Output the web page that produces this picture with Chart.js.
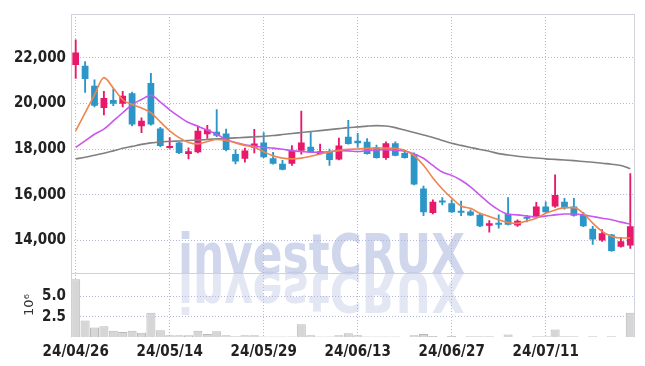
<!DOCTYPE html>
<html><head><meta charset="utf-8">
<script src="https://cdn.jsdelivr.net/npm/chart.js@4.4.1/dist/chart.umd.min.js"></script>
<style>html,body{margin:0;padding:0;background:#fff;}#wrap{position:relative;width:645px;height:366px;}</style>
</head><body><div id="wrap"><canvas id="c" width="645" height="366"></canvas></div>
<script>
const dates = ['24/04/26','24/04/29','24/04/30','24/05/02','24/05/03','24/05/07','24/05/08','24/05/09','24/05/10','24/05/13',
'24/05/14','24/05/16','24/05/17','24/05/20','24/05/21','24/05/22','24/05/23','24/05/24','24/05/27','24/05/28',
'24/05/29','24/05/30','24/05/31','24/06/03','24/06/04','24/06/05','24/06/07','24/06/10','24/06/11','24/06/12',
'24/06/13','24/06/14','24/06/17','24/06/18','24/06/19','24/06/20','24/06/21','24/06/24','24/06/25','24/06/26',
'24/06/27','24/06/28','24/07/01','24/07/02','24/07/03','24/07/04','24/07/05','24/07/08','24/07/09','24/07/10',
'24/07/11','24/07/12','24/07/15','24/07/16','24/07/17','24/07/18','24/07/19','24/07/22','24/07/23','24/07/24'];
const openP  = [21680,21650,20770,19800,20150,19980,20450,19000,20890,18900,18040,18290,17780,17860,18650,18760,18680,17780,17570,18060,18290,17600,17350,17350,17930,18100,17780,17890,17540,18540,18360,18320,18070,17610,18250,17830,17780,16270,15190,15720,15620,15260,15260,15120,14640,14750,15160,14650,15000,15040,15480,15480,15690,15480,15120,14510,13990,14250,13720,13770];
const highP  = [22790,21830,21030,20530,20630,20530,20500,19370,21320,18950,18500,18300,18050,19010,19040,19730,18870,17960,18040,18860,18720,17860,17500,18150,19660,18720,18220,18000,18480,19260,18690,18460,18170,18320,18320,17930,17830,16380,15770,15870,15770,15720,15330,15190,14860,15120,15870,14900,15090,15660,15690,16870,15840,15840,15220,14610,14470,14260,14130,16920];
const lowP   = [21100,20480,19850,19490,19900,19850,19010,18720,19050,18100,18030,17800,17570,17830,18460,18540,17920,17350,17420,17830,17620,17340,17080,17280,17780,17850,17770,17280,17520,18210,18070,17770,17600,17540,17700,17600,16430,15080,15150,15550,15220,15080,15080,14600,14350,14530,14670,14610,14800,15030,15220,15440,15360,15060,14600,13820,13950,13510,13700,13640];
const closeP = [22230,21070,19900,20240,19980,20340,19080,19240,19080,18130,18120,17830,17900,18800,18860,18580,17960,17450,17940,18240,17640,17350,17090,17930,18290,17860,17900,17520,18150,18220,18250,17780,17610,18250,17710,17610,16440,15230,15690,15660,15230,15210,15090,14610,14750,14680,14680,14860,14940,15480,15230,15980,15400,15070,14610,14030,14310,13530,13960,14610];
const ma5  = [18800,19590,20370,21130,20670,20160,19950,19800,19590,19190,18800,18500,18290,18225,18330,18420,18375,18270,18160,18075,17880,17700,17600,17570,17600,17680,17780,17870,17940,17990,18000,18030,18045,18045,18030,17950,17710,17290,16730,16250,15850,15500,15400,15185,15040,14900,14780,14740,14850,14970,15185,15330,15430,15430,15185,14750,14390,14180,14100,14100];
const ma10 = [18070,18360,18650,18870,19230,19590,19950,20170,20360,20060,19720,19420,19160,19000,18820,18650,18420,18290,18190,18130,18070,18040,17990,17930,17890,17860,17860,17880,17930,17920,17890,17930,17965,17973,17943,17900,17783,17597,17280,16990,16845,16630,16340,15980,15620,15332,15142,15115,15060,15020,15060,15115,15150,15150,15115,15042,14968,14900,14795,14709];
const ma60 = [17566,17640,17727,17813,17920,18030,18116,18203,18268,18310,18333,18354,18376,18397,18419,18450,18470,18490,18510,18536,18557,18592,18635,18679,18722,18765,18808,18852,18895,18939,18970,19004,19026,19013,18939,18830,18722,18614,18506,18376,18250,18160,18070,17980,17900,17800,17735,17683,17640,17605,17570,17545,17520,17490,17455,17420,17375,17335,17280,17140];
const volume = [7.1,2.05,1.2,1.35,0.8,0.65,0.8,0.55,3.0,0.85,0.25,0.25,0.25,0.8,0.4,0.75,0.25,0.12,0.25,0.25,0.1,0.1,0.1,0.1,1.6,0.25,0.1,0.1,0.25,0.5,0.25,0.1,0.1,0.1,0.1,0.05,0.25,0.4,0.15,0.05,0.15,0.05,0.12,0.12,0.12,0.05,0.35,0.05,0.05,0.12,0.12,0.95,0.12,0.12,0.05,0.12,0.05,0.12,0.05,3.0];
const priceTicks = [14000,16000,18000,20000,22000];
const volumeTicks = [2.5,5.0];

const UP = '#e8196a', DOWN = '#2c96c8';
const GRID = 'rgba(165,172,210,0.85)';
const candleColor = openP.map((o,i)=> closeP[i] >= o ? UP : DOWN);
const FONT = '"Liberation Sans Narrow","DejaVu Sans Condensed",sans-serif';

const framePlugin = {
  id:'frame',
  beforeDatasetsDraw(chart){
    const {ctx} = chart;
    const ySep = chart.scales.y.bottom;
    ctx.save();
    ctx.font = 'bold 56px "DejaVu Sans Condensed", sans-serif';
    const txt = 'investCRUX';
    const w = ctx.measureText(txt).width;
    ctx.translate(178, ySep);
    ctx.scale(287 / w, 1);
    ctx.textBaseline = 'alphabetic';
    ctx.fillStyle = 'rgba(170,180,218,0.55)';
    ctx.fillText(txt, 0, 0);
    ctx.scale(1, -1);
    ctx.fillStyle = 'rgba(170,180,218,0.33)';
    ctx.fillText(txt, 0, 0);
    ctx.restore();
  },
  afterDatasetsDraw(chart){
    const {ctx, chartArea:a} = chart;
    const ySep = chart.scales.y.bottom;
    ctx.save();
    ctx.strokeStyle = '#cfd1dc';
    ctx.lineWidth = 1;
    ctx.beginPath();
    ctx.moveTo(a.left+0.5, a.top); ctx.lineTo(a.left+0.5, a.bottom);
    ctx.moveTo(a.right-0.5, a.top); ctx.lineTo(a.right-0.5, a.bottom);
    ctx.moveTo(a.left, a.top+0.5); ctx.lineTo(a.right, a.top+0.5);
    ctx.moveTo(a.left, Math.round(ySep)+0.5); ctx.lineTo(a.right, Math.round(ySep)+0.5);
    ctx.stroke();
    ctx.restore();
  }
};

new Chart(document.getElementById('c'), {
  data: {
    labels: dates,
    datasets: [
      { type:'line', label:'MA5', data: ma5, yAxisID:'y', borderColor:'#ee8550', borderWidth:1.6, pointRadius:0, cubicInterpolationMode:'monotone', order:1 },
      { type:'line', label:'MA10', data: ma10, yAxisID:'y', borderColor:'#c957ee', borderWidth:1.6, pointRadius:0, cubicInterpolationMode:'monotone', order:1 },
      { type:'line', label:'MA60', data: ma60, yAxisID:'y', borderColor:'#808080', borderWidth:1.6, pointRadius:0, cubicInterpolationMode:'monotone', order:1 },
      { type:'bar', label:'body', data: openP.map((o,i)=>[o, closeP[i]]), yAxisID:'y', backgroundColor: candleColor, borderWidth:0, borderSkipped:false, grouped:false, barPercentage:0.72, categoryPercentage:1, minBarLength:2, order:2 },
      { type:'bar', label:'wick', data: lowP.map((l,i)=>[l, highP[i]]), yAxisID:'y', backgroundColor: candleColor, borderWidth:0, borderSkipped:false, grouped:false, barThickness:1.2, order:3 },
      { type:'bar', label:'volume', data: volume, yAxisID:'y2', backgroundColor:'#d6d6d6', borderColor:'#b9b9b9', borderWidth:{top:1,left:1,right:1,bottom:0}, grouped:false, barPercentage:0.96, categoryPercentage:1, order:4 }
    ]
  },
  options: {
    responsive:false, animation:false,
    layout:{ padding:{ top:10, right:10, left:0, bottom:0 } },
    plugins:{ legend:{display:false}, tooltip:{enabled:false} },
    scales:{
      x:{
        type:'category', offset:true,
        grid:{ offset:false, drawTicks:false, color:(c)=> (c.index % 10 === 0 ? GRID : 'rgba(0,0,0,0)'), lineWidth:1 },
        border:{ display:false, dash:[1,2] },
        ticks:{ autoSkip:false, maxRotation:0, padding:6, color:'#222', font:{family:FONT, size:15, weight:'bold'},
          callback:(v,i)=> (i % 10 === 0 ? dates[i] : '') },
        afterFit:(s)=>{ s.height = 366 - 337.3; }
      },
      y2:{
        type:'linear', position:'left', stack:'main', stackWeight:1, min:0, max:7.9,
        afterBuildTicks:(s)=>{ s.ticks = volumeTicks.map(v=>({value:v})); },
        grid:{ drawTicks:false, color:GRID },
        border:{ display:false, dash:[1,2] },
        title:{ display:true, text:'10⁶', color:'#333', font:{family:'"DejaVu Sans"', size:13}, padding:{top:22,bottom:0} },
        ticks:{ padding:5, color:'#222', font:{family:FONT, size:15, weight:'bold'},
          callback:(v)=> v.toFixed(1) },
        afterFit:(s)=>{ s.width = 71; }
      },
      y:{
        type:'linear', position:'left', stack:'main', stackWeight:4.01, min:12575, max:23920,
        afterBuildTicks:(s)=>{ s.ticks = priceTicks.map(v=>({value:v})); },
        grid:{ drawTicks:false, color:GRID },
        border:{ display:false, dash:[1,2] },
        ticks:{ padding:5, color:'#222', font:{family:FONT, size:15, weight:'bold'},
          callback:(v)=> v.toLocaleString('en-US') },
        afterFit:(s)=>{ s.width = 71; }
      }
    }
  },
  plugins:[framePlugin]
});
</script></body></html>
